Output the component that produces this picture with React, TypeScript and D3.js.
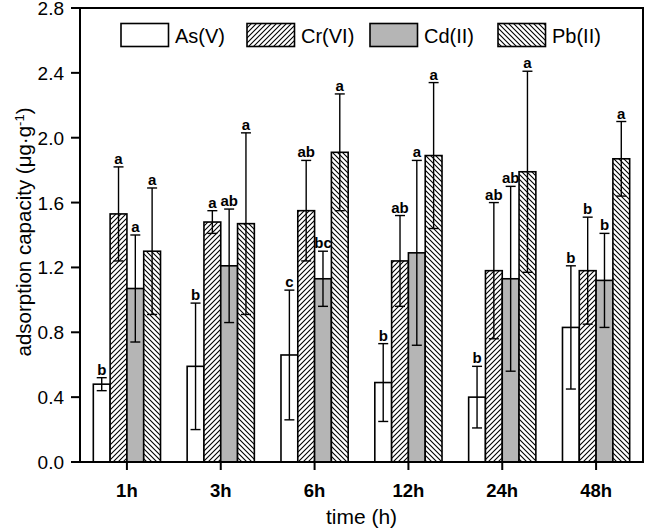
import React from 'react';
import * as d3 from 'd3';

const times = ['1h', '3h', '6h', '12h', '24h', '48h'];
const seriesNames = ['As(V)', 'Cr(VI)', 'Cd(II)', 'Pb(II)'];
const asV = [0.48, 0.59, 0.66, 0.49, 0.40, 0.83];
const asErr = [0.04, 0.39, 0.40, 0.24, 0.19, 0.38];
const crVI = [1.53, 1.48, 1.55, 1.24, 1.18, 1.18];
const crErr = [0.29, 0.07, 0.31, 0.28, 0.42, 0.33];
const cdII = [1.07, 1.21, 1.13, 1.29, 1.13, 1.12];
const cdErr = [0.33, 0.35, 0.17, 0.57, 0.57, 0.29];
const pbII = [1.30, 1.47, 1.91, 1.89, 1.79, 1.87];
const pbErr = [0.39, 0.56, 0.36, 0.45, 0.62, 0.23];
const asLetters = ['b', 'b', 'c', 'b', 'b', 'b'];
const crLetters = ['a', 'a', 'ab', 'ab', 'ab', 'b'];
const cdLetters = ['a', 'ab', 'bc', 'a', 'ab', 'b'];
const pbLetters = ['a', 'a', 'a', 'a', 'a', 'a'];
const yTicks = [0, 0.4, 0.8, 1.2, 1.6, 2.0, 2.4, 2.8];

const series = [
  { name: seriesNames[0], values: asV, errs: asErr, letters: asLetters, fill: '#ffffff' },
  { name: seriesNames[1], values: crVI, errs: crErr, letters: crLetters, fill: 'url(#hatchFwd)' },
  { name: seriesNames[2], values: cdII, errs: cdErr, letters: cdLetters, fill: '#b5b5b5' },
  { name: seriesNames[3], values: pbII, errs: pbErr, letters: pbLetters, fill: 'url(#hatchBack)' },
];

const W = 645;
const H = 528;
const left = 80;
const right = 643;
const top = 8;
const bottom = 462;
const barW = 16.8;
const legendX = [121, 247, 370, 498];
const FONT = "'Liberation Sans', Arial, sans-serif";

export default function App() {
  const x = d3.scaleBand<string>().domain(times).range([left, right]).padding(0);
  const y = d3.scaleLinear().domain([0, 2.8]).range([bottom, top]);
  const fmt = d3.format('.1f');

  return (
    <svg
      width={W}
      height={H}
      style={{ position: 'absolute', left: 0, top: 0, background: '#fff' }}
      fontFamily={FONT}
    >
      <defs>
        <pattern id="hatchFwd" patternUnits="userSpaceOnUse" width={5} height={5}>
          <rect width={5} height={5} fill="#fff" />
          <path d="M0,5 L5,0 M-1.25,1.25 L1.25,-1.25 M3.75,6.25 L6.25,3.75" stroke="#000" strokeWidth={1.1} />
        </pattern>
        <pattern id="hatchBack" patternUnits="userSpaceOnUse" width={5} height={5}>
          <rect width={5} height={5} fill="#fff" />
          <path d="M0,0 L5,5 M-1.25,3.75 L1.25,6.25 M3.75,-1.25 L6.25,1.25" stroke="#000" strokeWidth={1.1} />
        </pattern>
      </defs>

      {/* bars */}
      {series.map((s, si) =>
        times.map((t, ti) => {
          const cx = (x(t) as number) + x.bandwidth() / 2;
          const bx = cx + (si - 2) * barW;
          const v = s.values[ti];
          return (
            <rect
              key={`b-${si}-${ti}`}
              x={bx}
              y={y(v)}
              width={barW}
              height={y(0) - y(v)}
              fill={s.fill}
              stroke="#000"
              strokeWidth={1.6}
            />
          );
        })
      )}

      {/* error bars and letters */}
      {series.map((s, si) =>
        times.map((t, ti) => {
          const cx = (x(t) as number) + x.bandwidth() / 2;
          const mx = cx + (si - 2) * barW + barW / 2;
          const v = s.values[ti];
          const e = s.errs[ti];
          const y1 = y(v + e);
          const y0 = y(v - e);
          return (
            <g key={`e-${si}-${ti}`} stroke="#000" strokeWidth={1.4}>
              <line x1={mx} x2={mx} y1={y1} y2={y0} />
              <line x1={mx - 5} x2={mx + 5} y1={y1} y2={y1} />
              <line x1={mx - 5} x2={mx + 5} y1={y0} y2={y0} />
              <text
                x={mx}
                y={y1 - 3}
                textAnchor="middle"
                fontSize={15}
                fontWeight="bold"
                stroke="none"
                fill="#000"
              >
                {s.letters[ti]}
              </text>
            </g>
          );
        })
      )}

      {/* frame */}
      <rect x={left} y={top} width={right - left} height={bottom - top} fill="none" stroke="#000" strokeWidth={2} />

      {/* y axis ticks */}
      {yTicks.map((v) => (
        <g key={`yt-${v}`}>
          <line x1={left - 9} x2={left} y1={y(v)} y2={y(v)} stroke="#000" strokeWidth={2} />
          <text x={left - 16} y={y(v) + 7} textAnchor="end" fontSize={19} fill="#000">
            {fmt(v)}
          </text>
        </g>
      ))}

      {/* x axis ticks */}
      {times.map((t) => {
        const cx = (x(t) as number) + x.bandwidth() / 2;
        return (
          <g key={`xt-${t}`}>
            <line x1={cx} x2={cx} y1={bottom} y2={bottom + 8} stroke="#000" strokeWidth={2} />
            <text x={cx} y={497} textAnchor="middle" fontSize={18.5} fontWeight="bold" fill="#000">
              {t}
            </text>
          </g>
        );
      })}

      {/* axis titles */}
      <text x={(left + right) / 2} y={524} textAnchor="middle" fontSize={21} fill="#000">
        time (h)
      </text>
      <text transform="translate(31,232) rotate(-90)" textAnchor="middle" fontSize={20.5} fill="#000">
        adsorption capacity (μg·g
        <tspan dy={-7} fontSize={13}>-1</tspan>
        <tspan dy={7}>)</tspan>
      </text>

      {/* legend */}
      {series.map((s, si) => (
        <g key={`lg-${si}`}>
          <rect x={legendX[si]} y={23.5} width={47.5} height={23} fill={s.fill} stroke="#000" strokeWidth={1.6} />
          <text x={legendX[si] + 54} y={42.5} fontSize={20} fill="#000">
            {s.name}
          </text>
        </g>
      ))}
    </svg>
  );
}
